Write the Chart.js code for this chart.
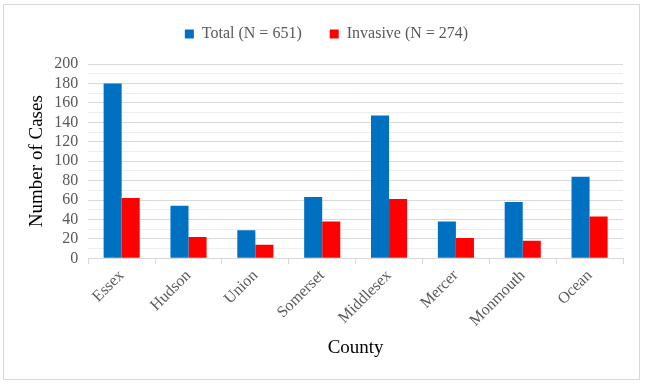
<!DOCTYPE html>
<html><head><meta charset="utf-8">
<script src="https://cdn.jsdelivr.net/npm/chart.js@4/dist/chart.umd.min.js"></script>
<style>
html,body{margin:0;padding:0;background:#fff;}
#wrap{position:absolute;left:3px;top:4px;width:637px;height:376px;border:1px solid #d9d9d9;box-sizing:border-box;}
#c{position:absolute;left:0;top:0;}
</style></head>
<body>
<div id="wrap"></div>
<canvas id="c" width="647" height="386"></canvas>
<script>
const counties = ["Essex","Hudson","Union","Somerset","Middlesex","Mercer","Monmouth","Ocean"];
const totalCases = [180,54,29,63,147,38,58,84];
const invasiveCases = [62,22,14,38,61,21,18,43];
const seriesLabels = ["Total (N = 651)","Invasive (N = 274)"];
const yTickLabels = [0,20,40,60,80,100,120,140,160,180,200];

const serif = "'Liberation Serif','Times New Roman',serif";
const legendSpacer = {
  id: 'legendSpacer',
  beforeInit(chart) {
    const origFit = chart.legend.fit;
    chart.legend.fit = function () { origFit.call(this); this.height += 12; };
  }
};
new Chart(document.getElementById('c'), {
  type: 'bar',
  data: {
    labels: counties,
    datasets: [
      {label: seriesLabels[0], data: totalCases, backgroundColor: '#0070c0', categoryPercentage: 0.54, barPercentage: 1},
      {label: seriesLabels[1], data: invasiveCases, backgroundColor: '#ff0000', categoryPercentage: 0.54, barPercentage: 1}
    ]
  },
  plugins: [legendSpacer],
  options: {
    responsive: false,
    animation: false,
    devicePixelRatio: 1,
    layout: {padding: {left: 30, right: 24, top: -2, bottom: 23}},
    plugins: {
      legend: {
        position: 'top',
        labels: {font: {family: serif, size: 16}, color: '#595959', boxWidth: 9, boxHeight: 9, padding: 28},
      },
      tooltip: {enabled: false}
    },
    scales: {
      x: {
        grid: {drawOnChartArea: false, drawTicks: true, tickLength: 6, color: '#d9d9d9', offset: true},
        border: {display: true, color: '#d9d9d9'},
        ticks: {font: {family: serif, size: 16}, color: '#595959', maxRotation: 45, minRotation: 45, padding: 2},
        title: {display: true, text: 'County', font: {family: serif, size: 19}, color: '#000', padding: {top: 4}}
      },
      y: {
        min: 0, max: 200,
        afterBuildTicks: (axis) => {
          const t = [];
          for (let v = 0; v <= 200; v += 10) t.push({value: v});
          axis.ticks = t;
        },
        grid: {
          drawTicks: false,
          color: (ctx) => (ctx.tick && ctx.tick.value % 20 === 0) ? '#d9d9d9' : '#ededed'
        },
        border: {display: false},
        ticks: {
          autoSkip: false,
          font: {family: serif, size: 16}, color: '#595959', padding: 10,
          callback: (v) => yTickLabels.includes(v) ? String(v) : ''
        },
        title: {display: true, text: 'Number of Cases', font: {family: serif, size: 19, lineHeight: 0.75}, color: '#000', padding: {top: 0, bottom: 0}}
      }
    }
  }
});
</script>
</body></html>
